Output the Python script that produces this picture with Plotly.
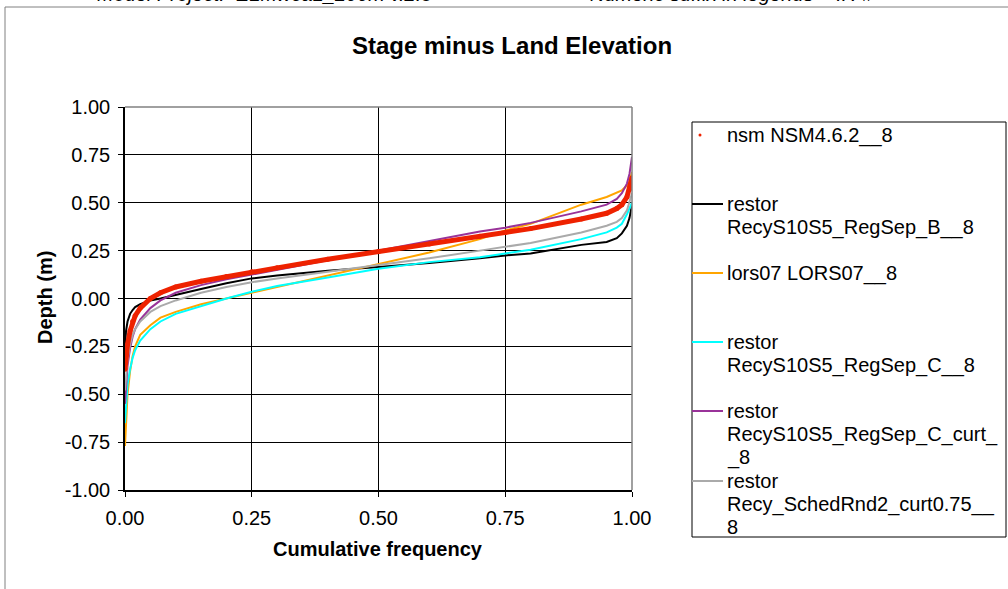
import plotly.graph_objects as go

# ---- data (cumulative frequency vs depth) ----
f_common = [0, 0.002, 0.005, 0.01, 0.015, 0.02, 0.03, 0.05, 0.07, 0.1, 0.15, 0.2, 0.25,
            0.3, 0.4, 0.5, 0.6, 0.7, 0.75, 0.8, 0.9, 0.95, 0.97, 0.98, 0.99, 0.995, 1.0]

nsm_depth = [-0.37, -0.30, -0.24, -0.17, -0.12, -0.09, -0.05, 0.0, 0.03, 0.06, 0.09, 0.115, 0.14,
             0.16, 0.205, 0.245, 0.285, 0.325, 0.345, 0.365, 0.415, 0.445, 0.47, 0.49, 0.53, 0.57, 0.63]
restB_depth = [-0.25, -0.17, -0.12, -0.08, -0.06, -0.045, -0.03, -0.01, 0.0, 0.02, 0.05, 0.08, 0.105,
               0.12, 0.145, 0.165, 0.185, 0.21, 0.225, 0.235, 0.28, 0.295, 0.315, 0.34, 0.38, 0.42, 0.49]
lors_depth = [-0.77, -0.62, -0.50, -0.38, -0.30, -0.25, -0.19, -0.14, -0.10, -0.07, -0.03, 0.0, 0.03,
              0.06, 0.12, 0.18, 0.24, 0.31, 0.355, 0.39, 0.49, 0.53, 0.555, 0.565, 0.59, 0.61, 0.66]
restC_depth = [-0.65, -0.55, -0.45, -0.37, -0.31, -0.27, -0.22, -0.16, -0.12, -0.08, -0.04, 0.0, 0.035,
               0.065, 0.11, 0.155, 0.19, 0.215, 0.235, 0.255, 0.31, 0.345, 0.37, 0.39, 0.44, 0.47, 0.5]
restCc_depth = [-0.55, -0.45, -0.35, -0.26, -0.20, -0.16, -0.11, -0.05, -0.01, 0.03, 0.07, 0.10, 0.125,
                0.15, 0.2, 0.25, 0.30, 0.35, 0.37, 0.395, 0.455, 0.49, 0.52, 0.55, 0.6, 0.65, 0.74]
sched_depth = [-0.48, -0.40, -0.32, -0.24, -0.19, -0.16, -0.12, -0.07, -0.04, -0.01, 0.03, 0.06, 0.085,
               0.105, 0.14, 0.175, 0.21, 0.25, 0.27, 0.29, 0.345, 0.38, 0.40, 0.42, 0.46, 0.5, 0.55]

y_tick_vals = [-1, -0.75, -0.5, -0.25, 0, 0.25, 0.5, 0.75, 1.0]
y_tick_text = ["-1.00", "-0.75", "-0.50", "-0.25", "0.00", "0.25", "0.50", "0.75", "1.00"]
x_tick_vals = [0, 0.25, 0.5, 0.75, 1.0]
x_tick_text = ["0.00", "0.25", "0.50", "0.75", "1.00"]

legend_lines = [["nsm NSM4.6.2__8"],
                ["restor", "RecyS10S5_RegSep_B__8"],
                ["lors07 LORS07__8"],
                ["restor", "RecyS10S5_RegSep_C__8"],
                ["restor", "RecyS10S5_RegSep_C_curt_", "_8"],
                ["restor", "Recy_SchedRnd2_curt0.75__", "8"]]
colors = ["#EE2200", "#000000", "#FFA500", "#00FFFF", "#993399", "#AAAAAA"]

W, H = 1008, 589
L, R, T, B = 125, 632, 107, 490
FONT = "Liberation Sans, Arial, sans-serif"

def px(x):
    return (x - L) / (R - L)

def py(y):
    return (B - y) / (B - T)

fig = go.Figure()
series = [restB_depth, lors_depth, restC_depth, restCc_depth, sched_depth]
for d, c in zip(series, colors[1:]):
    fig.add_trace(go.Scatter(x=f_common, y=d, mode="lines",
                             line=dict(color=c, width=2), showlegend=False))
fig.add_trace(go.Scatter(x=f_common, y=nsm_depth, mode="lines+markers",
                         line=dict(color=colors[0], width=5),
                         marker=dict(color=colors[0], size=5), showlegend=False))

shapes = []
ann = []
# outer chart border
shapes.append(dict(type="rect", xref="paper", yref="paper",
                   x0=px(5), x1=px(1100), y0=py(700), y1=py(7),
                   line=dict(color="#808080", width=1), layer="below"))
# plot border top/right (gray)
shapes.append(dict(type="line", xref="paper", yref="paper", x0=0, x1=1, y0=1, y1=1,
                   line=dict(color="#808080", width=1.5)))
shapes.append(dict(type="line", xref="paper", yref="paper", x0=1, x1=1, y0=0, y1=1,
                   line=dict(color="#808080", width=1.5)))
# legend box
shapes.append(dict(type="rect", xref="paper", yref="paper",
                   x0=px(692), x1=px(1006), y0=py(537), y1=py(122),
                   line=dict(color="#000000", width=1)))

# legend entries: y pixel of first text line
leg_y = [135, 204, 273, 342, 411, 481]
for i, (lines, c, yy) in enumerate(zip(legend_lines, colors, leg_y)):
    if i == 0:
        shapes.append(dict(type="circle", xref="paper", yref="paper",
                           x0=px(698.5), x1=px(701.5), y0=py(136.5), y1=py(133.5),
                           fillcolor=c, line=dict(color=c, width=0)))
    else:
        shapes.append(dict(type="line", xref="paper", yref="paper",
                           x0=px(692), x1=px(723), y0=py(yy), y1=py(yy),
                           line=dict(color=c, width=2)))
    for k, t in enumerate(lines):
        ann.append(dict(text=t, xref="paper", yref="paper", x=px(725), y=py(yy + 23 * k),
                        xanchor="left", yanchor="middle", showarrow=False, align="left",
                        font=dict(family=FONT, size=20, color="#000")))

# title
ann.append(dict(text="<b>Stage minus Land Elevation</b>", xref="paper", yref="paper",
                x=px(512), y=py(46), xanchor="center", yanchor="middle", showarrow=False,
                font=dict(family=FONT, size=24, color="#000")))
# axis titles
ann.append(dict(text="<b>Cumulative frequency</b>", xref="paper", yref="paper",
                x=px(378), y=py(549), xanchor="center", yanchor="middle", showarrow=False,
                font=dict(family=FONT, size=20, color="#000")))
ann.append(dict(text="<b>Depth (m)</b>", xref="paper", yref="paper",
                x=px(45), y=py(298), xanchor="center", yanchor="middle", showarrow=False,
                textangle=-90, font=dict(family=FONT, size=20, color="#000")))
# header texts (mostly cut off at top, as in the original)
ann.append(dict(text="<i>Model Project:  ELMwca1_200m v.2.5</i>", xref="paper", yref="paper",
                x=px(95), y=py(-6), xanchor="left", yanchor="middle", showarrow=False,
                font=dict(family=FONT, size=20, color="#000")))
ann.append(dict(text="<i>Numeric suffix in legends = IR #</i>", xref="paper", yref="paper",
                x=px(588), y=py(-6), xanchor="left", yanchor="middle", showarrow=False,
                font=dict(family=FONT, size=20, color="#000")))

fig.update_layout(
    width=W, height=H,
    margin=dict(l=L, r=W - R, t=T, b=H - B, pad=0),
    paper_bgcolor="white", plot_bgcolor="white",
    shapes=shapes, annotations=ann, showlegend=False,
    font=dict(family=FONT, size=20, color="#000"),
)
fig.update_xaxes(range=[0, 1], tickvals=x_tick_vals, ticktext=x_tick_text,
                 showgrid=True, gridcolor="#000000", gridwidth=1, zeroline=False,
                 showline=True, linecolor="#000000", linewidth=1.5,
                 ticks="outside", ticklen=5, tickcolor="#000", tickfont=dict(size=20),
                 ticklabelstandoff=4)
fig.update_yaxes(range=[-1, 1], tickvals=y_tick_vals, ticktext=y_tick_text,
                 showgrid=True, gridcolor="#000000", gridwidth=1,
                 zeroline=False, showline=True, linecolor="#000000", linewidth=1.5,
                 ticks="outside", ticklen=5, tickcolor="#000", tickfont=dict(size=20),
                 ticklabelstandoff=4)

fig.write_html("out.html")
